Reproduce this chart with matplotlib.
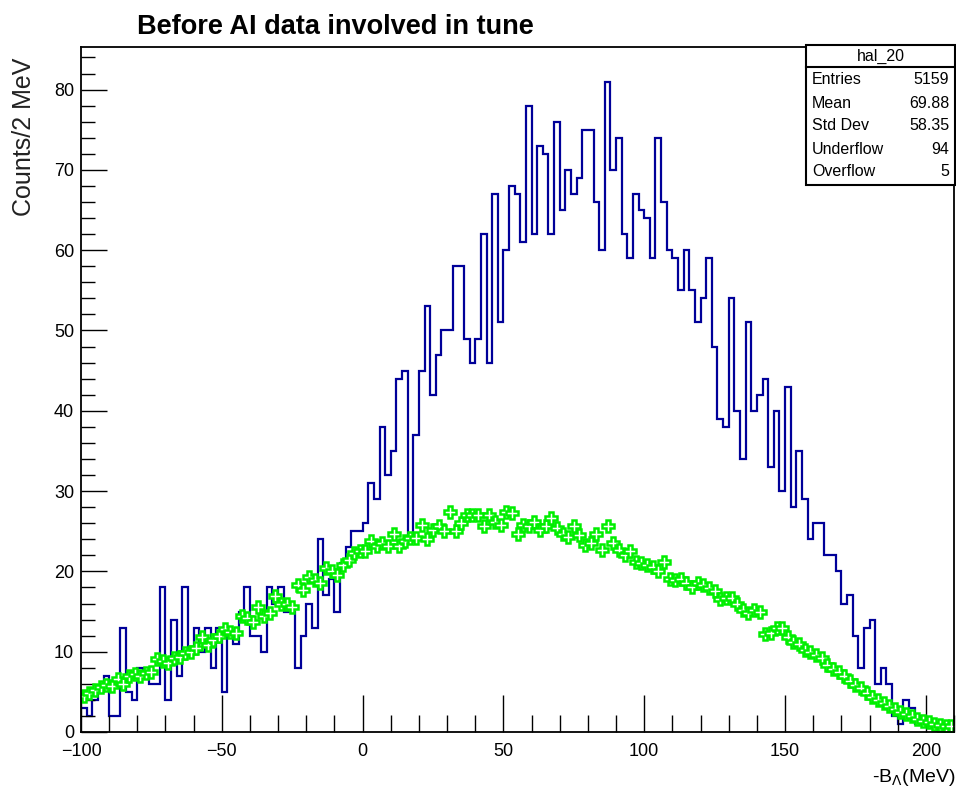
import numpy as np
import matplotlib
matplotlib.use("Agg")
import matplotlib.pyplot as plt
from matplotlib.patches import Rectangle
from matplotlib.ticker import MultipleLocator

plt.rcParams['font.family'] = ['Liberation Sans', 'DejaVu Sans']

# binning: 2 MeV bins from -100 to 210
bin_lo, bin_hi, bin_w = -100, 210, 2

# data histogram (hal_20), counts per bin
counts = [
    3, 2, 4, 5, 7, 2, 2, 13, 5, 4,
    8, 7, 6, 6, 18, 4, 14, 7, 18, 10,
    13, 10, 13, 8, 13, 5, 12, 11, 15, 18,
    12, 12, 10, 18, 16, 18, 15, 15, 8, 12,
    16, 13, 24, 17, 19, 15, 21, 23, 25, 25,
    26, 31, 29, 38, 32, 35, 44, 45, 24, 37,
    45, 53, 42, 47, 50, 50, 58, 58, 49, 46,
    49, 62, 46, 67, 51, 60, 68, 67, 61, 78,
    62, 73, 72, 62, 76, 65, 70, 67, 69, 75,
    75, 66, 60, 81, 70, 74, 62, 59, 67, 65,
    64, 59, 74, 66, 60, 59, 55, 60, 55, 51,
    54, 59, 48, 39, 38, 54, 40, 34, 51, 40,
    42, 44, 33, 40, 30, 43, 28, 35, 29, 24,
    26, 26, 22, 22, 20, 16, 17, 12, 8, 13,
    14, 6, 8, 6, 2, 1, 4, 3, 1, 2,
    1, 1, 0, 1, 0,
]

# simulation (green markers)
sim = [
    4.5, 4.8, 5.2, 5.6, 5.8, 5.7, 6.6, 6.0, 7.0, 7.2,
    7.0, 7.4, 7.5, 9.1, 8.8, 8.6, 9.2, 9.4, 9.8, 9.9,
    10.4, 11.8, 10.8, 11.5, 11.9, 12.8, 12.5, 12.3, 14.5, 14.2,
    13.7, 15.6, 14.4, 14.8, 16.9, 16.0, 16.0, 15.6, 18.3, 17.7,
    19.3, 18.9, 18.5, 20.4, 20.0, 19.6, 20.8, 21.4, 22.3, 22.5,
    22.5, 23.8, 23.2, 23.5, 23.2, 24.7, 23.2, 23.8, 24.1, 24.1,
    25.8, 24.0, 25.1, 25.6, 25.0, 27.4, 25.0, 26.0, 27.0, 27.0,
    27.0, 25.6, 27.0, 26.2, 25.8, 27.4, 27.3, 24.7, 25.8, 25.6,
    26.2, 25.2, 25.6, 26.6, 25.4, 24.7, 24.3, 25.6, 24.5, 23.3,
    23.5, 24.7, 22.7, 25.6, 23.5, 22.7, 22.0, 22.5, 21.2, 21.1,
    20.8, 20.6, 20.0, 21.2, 19.1, 18.9, 19.1, 18.5, 18.1, 18.5,
    18.3, 17.9, 17.5, 16.5, 16.7, 16.7, 16.0, 15.2, 14.8, 15.2,
    15.0, 12.2, 12.3, 12.9, 13.0, 11.8, 11.2, 11.0, 10.2, 9.9,
    9.6, 9.2, 8.3, 7.8, 7.5, 7.0, 6.3, 5.8, 5.5, 4.9,
    4.4, 4.0, 3.6, 3.2, 2.9, 2.5, 2.2, 2.0, 1.6, 1.4,
    1.2, 1.0, 0.9, 0.8, 0.8,
]

stat_names = ["Entries", "Mean", "Std Dev", "Underflow", "Overflow"]
stat_values = ["5159", "69.88", "58.35", "94", "5"]

edges = np.arange(bin_lo, bin_hi + bin_w, bin_w)
centers = 0.5 * (edges[:-1] + edges[1:])

W, H = 956, 792
fig = plt.figure(figsize=(W / 100, H / 100), dpi=100)
ax = fig.add_axes([81 / W, 60 / H, 873 / W, 685 / H])

ax.stairs(counts, edges, color='#000099', lw=1.6, baseline=None)
ax.plot(centers, sim, ls='none', marker='P', ms=8, mfc='white',
        mec='#00ee00', mew=1.8)

ax.set_xlim(bin_lo, bin_hi)
ax.set_ylim(0, 85.3)

ax.xaxis.set_major_locator(MultipleLocator(50))
ax.xaxis.set_minor_locator(MultipleLocator(10))
ax.yaxis.set_major_locator(MultipleLocator(10))
ax.yaxis.set_minor_locator(MultipleLocator(2))
ax.tick_params(axis='x', which='major', direction='in', length=27, width=1.0,
               labelsize=13, pad=8, top=False)
ax.tick_params(axis='x', which='minor', direction='in', length=12, width=1.0, top=False)
ax.tick_params(axis='y', which='major', direction='in', length=19, width=1.0,
               labelsize=13, pad=5, right=False)
ax.tick_params(axis='y', which='minor', direction='in', length=10, width=1.0, right=False)
for s in ax.spines.values():
    s.set_linewidth(1.3)

fig.text(24 / W, 1 - 58 / H, "Counts/2 MeV", rotation=90, ha='center', va='top',
         fontsize=18, color='#222222')
fig.text(955 / W, 1 - 778 / H, r"-B$_{\Lambda}$(MeV)", ha='right', va='center',
         fontsize=14)
fig.text(137 / W, 1 - 27 / H, "Before AI data involved in tune", ha='left',
         va='center', fontsize=19.5, fontweight='bold')

# stats box
bx0, bx1, by0, by1, by_sep = 806, 955, 45, 185, 67
fig.add_artist(Rectangle((bx0 / W, 1 - by1 / H), (bx1 - bx0) / W, (by1 - by0) / H,
                         transform=fig.transFigure, fc='white', ec='black', lw=1.5))
fig.add_artist(plt.Line2D([bx0 / W, bx1 / W], [1 - by_sep / H] * 2,
                          transform=fig.transFigure, color='black', lw=1.5))
fig.text((bx0 + bx1) / 2 / W, 1 - 56 / H, "hal_20", ha='center', va='center',
         fontsize=11.5)
for i, (n, v) in enumerate(zip(stat_names, stat_values)):
    yy = 1 - (80 + 23 * i) / H
    fig.text(812 / W, yy, n, ha='left', va='center', fontsize=11.5)
    fig.text(949 / W, yy, v, ha='right', va='center', fontsize=11.5)

fig.savefig("out.png", dpi=100)
